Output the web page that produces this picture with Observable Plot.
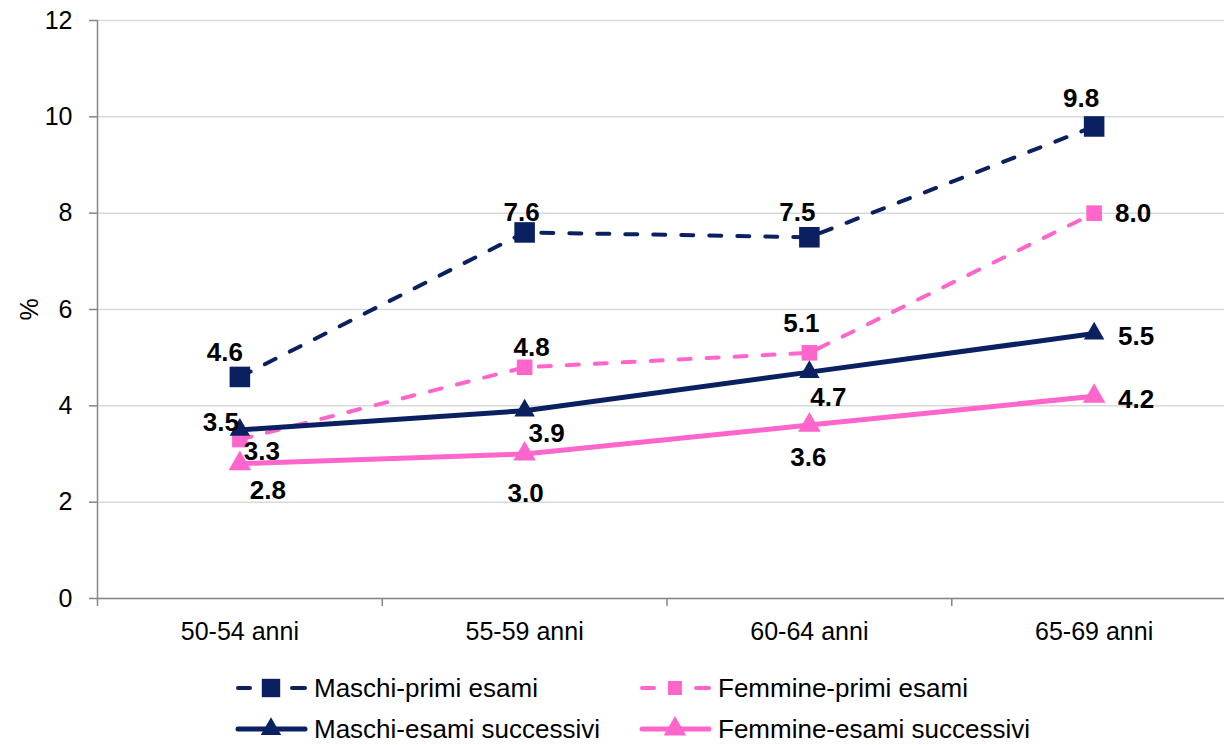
<!DOCTYPE html>
<html><head><meta charset="utf-8">
<script src="https://cdn.jsdelivr.net/npm/d3@7"></script>
<script src="https://cdn.jsdelivr.net/npm/@observablehq/plot@0.6"></script>
<style>
body{margin:0;background:#fff;font-family:"Liberation Sans",Arial,sans-serif;}
#wrap{position:relative;width:1224px;height:745px;overflow:hidden;}
#legend{position:absolute;left:0;top:660px;width:1224px;height:85px;}
.item{position:absolute;display:flex;align-items:center;font-size:26px;color:#000;white-space:nowrap;}
.item svg{margin-right:6px;}
</style></head><body>
<div id="wrap"><div id="chart"></div><div id="legend"></div></div>
<script>
const categories = ["50-54 anni", "55-59 anni", "60-64 anni", "65-69 anni"];
const seriesNames = ["Maschi-primi esami", "Femmine-primi esami", "Maschi-esami successivi", "Femmine-esami successivi"];
const maschiPrimi = [4.6, 7.6, 7.5, 9.8];
const femminePrimi = [3.3, 4.8, 5.1, 8.0];
const maschiSuccessivi = [3.5, 3.9, 4.7, 5.5];
const femmineSuccessivi = [2.8, 3.0, 3.6, 4.2];
const yTicks = [0, 2, 4, 6, 8, 10, 12];

const NAVY = "#0b2060", PINK = "#ff66cc";
const styles = [
  {color: NAVY, dash: "12,16", width: 4, symbol: "square", r: 11.6},
  {color: PINK, dash: "12,16", width: 4, symbol: "square", r: 8.8},
  {color: NAVY, dash: null, width: 5, symbol: "triangle", r: 7.6},
  {color: PINK, dash: null, width: 5, symbol: "triangle", r: 8.4}
];
// label offsets (px) relative to each point
const labelOffsets = [
  [[-15, -24], [-3, -20], [-12, -25], [-13, -28]],
  [[22, 12], [7, -20], [-8, -29], [39, 1]],
  [[-19, -7], [22, 23], [19, 26], [42, 3]],
  [[28, 27], [1, 40], [-1, 33], [42, 3]]
];

const allSeries = [maschiPrimi, femminePrimi, maschiSuccessivi, femmineSuccessivi];
const rows = [];
allSeries.forEach((vals, s) => vals.forEach((v, i) => rows.push({s, i, v, cat: categories[i], name: seriesNames[s]})));
const boundaries = d3.range(categories.length + 1).map(k => k - 0.5);

const marks = [
  Plot.gridY(yTicks, {stroke: "#d9d9d9", strokeOpacity: 1, strokeWidth: 1.5}),
  Plot.axisY({ticks: yTicks, tickSize: 8, tickPadding: 17, stroke: "#868686", strokeWidth: 1.5, label: "%", labelAnchor: "center", labelArrow: "none", labelOffset: 77}),
  Plot.axisX({ticks: boundaries, tickSize: 8, tickFormat: () => "", stroke: "#868686", strokeWidth: 1.5, label: null}),
  Plot.axisX({ticks: d3.range(categories.length), tickSize: 0, tickPadding: 24, tickFormat: i => categories[i], label: null}),
  Plot.ruleX([-0.5], {stroke: "#868686", strokeWidth: 1.5}),
  Plot.ruleY([0], {stroke: "#868686", strokeWidth: 1.5})
];
styles.forEach((st, s) => {
  const d = rows.filter(r => r.s === s);
  marks.push(Plot.line(d, {x: "i", y: "v", stroke: st.color, strokeWidth: st.width, strokeDasharray: st.dash, strokeLinecap: "round", strokeLinejoin: "round"}));
});
styles.forEach((st, s) => {
  const d = rows.filter(r => r.s === s);
  marks.push(Plot.dot(d, {x: "i", y: "v", symbol: st.symbol, r: st.r, fill: st.color, stroke: "none"}));
});
styles.forEach((st, s) => {
  const d = rows.filter(r => r.s === s);
  d.forEach((r, k) => {
    const [dx, dy] = labelOffsets[s][k];
    marks.push(Plot.text([r], {x: "i", y: "v", text: r => r.v.toFixed(1), dx, dy, fontWeight: "bold", fontSize: 26, fill: "#000", lineAnchor: "middle", textAnchor: "middle"}));
  });
});

const chart = Plot.plot({
  width: 1224, height: 660,
  marginTop: 20, marginBottom: 62, marginLeft: 97, marginRight: 0,
  style: {fontFamily: "'Liberation Sans', Arial, sans-serif", fontSize: "25px", color: "#000", background: "#fff", overflow: "visible"},
  x: {type: "linear", domain: [-0.5, categories.length - 0.5], range: [97, 1236]},
  y: {domain: [0, 12]},
  marks
});
document.getElementById("chart").appendChild(chart);

// legend
const legendPos = [[234, 688], [638, 688], [234, 729], [638, 729]];
const legend = document.getElementById("legend");
const ns = "http://www.w3.org/2000/svg";
function seg(svg, x1, x2, st) {
  const line = document.createElementNS(ns, "line");
  line.setAttribute("x1", x1); line.setAttribute("x2", x2); line.setAttribute("y1", 15); line.setAttribute("y2", 15);
  line.setAttribute("stroke", st.color); line.setAttribute("stroke-width", st.width);
  line.setAttribute("stroke-linecap", "round");
  svg.appendChild(line);
}
styles.forEach((st, s) => {
  const div = document.createElement("div");
  div.className = "item";
  div.style.left = legendPos[s][0] + "px";
  div.style.top = (legendPos[s][1] - 660 - 15) + "px";
  div.style.height = "30px";
  const svg = document.createElementNS(ns, "svg");
  svg.setAttribute("width", 74); svg.setAttribute("height", 30);
  if (st.dash) { seg(svg, 4, 16, st); seg(svg, 58, 71, st); }
  else seg(svg, 4, 71, st);
  const sym = st.symbol === "square" ? d3.symbolSquare : d3.symbolTriangle;
  const p = document.createElementNS(ns, "path");
  p.setAttribute("d", d3.symbol(sym, Math.PI * st.r * st.r * (st.symbol === "square" ? 0.8 : 1))());
  p.setAttribute("transform", "translate(37,15)");
  p.setAttribute("fill", st.color);
  svg.appendChild(p);
  div.appendChild(svg);
  div.appendChild(document.createTextNode(seriesNames[s]));
  legend.appendChild(div);
});
</script>
</body></html>
